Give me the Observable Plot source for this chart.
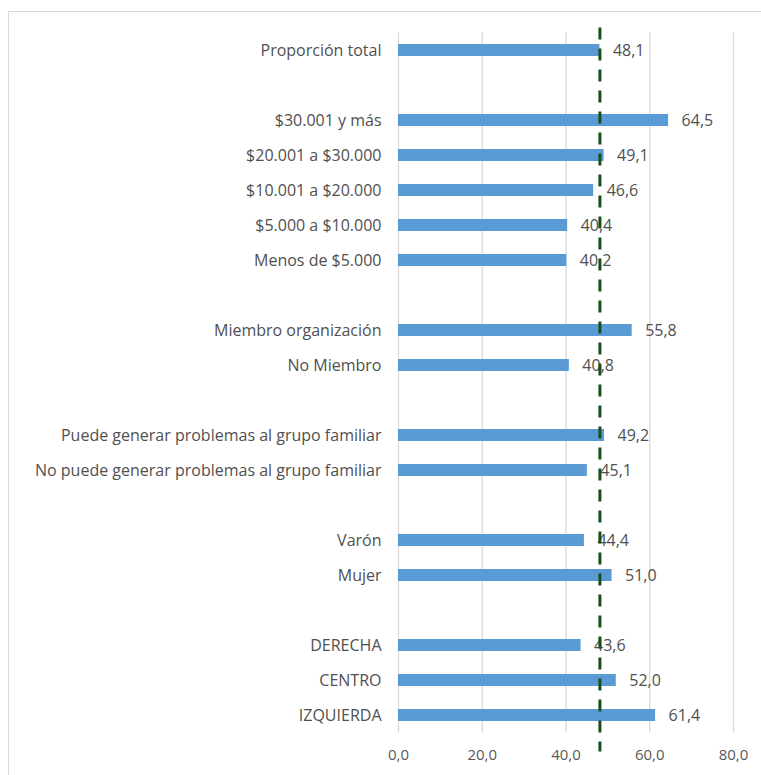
<!DOCTYPE html>
<html>
<head>
<meta charset="utf-8">
<script src="https://cdn.jsdelivr.net/npm/d3@7"></script>
<script src="https://cdn.jsdelivr.net/npm/@observablehq/plot@0.6"></script>
<style>
  html, body { margin: 0; padding: 0; background: #fff; overflow: hidden; }
  #wrap { position: relative; width: 761px; height: 775px; }
  #border { position: absolute; left: 8px; top: 11px; width: 820px; height: 820px;
            border: 1.5px solid #d9d9d9; box-sizing: border-box; }
  #chart { position: absolute; left: 0; top: 0; }
</style>
</head>
<body>
<div id="wrap"><div id="border"></div><div id="chart"></div></div>
<script>
const categories = [
  "Proporción total",
  "$30.001 y más", "$20.001 a $30.000", "$10.001 a $20.000", "$5.000 a $10.000", "Menos de $5.000",
  "Miembro organización", "No Miembro",
  "Puede generar problemas al grupo familiar", "No puede generar problemas al grupo familiar",
  "Varón", "Mujer",
  "DERECHA", "CENTRO", "IZQUIERDA"
];
const values = [48.1, 64.5, 49.1, 46.6, 40.4, 40.2, 55.8, 40.8, 49.2, 45.1, 44.4, 51.0, 43.6, 52.0, 61.4];
const groupSizes = [1, 5, 2, 2, 2, 3];
const xTicks = [0, 20, 40, 60, 80];
const totalValue = 48.1;

// build the band domain with blank spacer rows between groups
const domain = [];
let k = 0;
groupSizes.forEach((n, g) => {
  if (g > 0) domain.push("__gap" + g);
  for (let i = 0; i < n; i++) domain.push(categories[k++]);
});
const data = categories.map((c, i) => ({category: c, value: values[i]}));
const fmt = v => v.toFixed(1).replace(".", ",");

const font = "'Open Sans', 'Noto Sans', sans-serif";
const chart = Plot.plot({
  width: 761,
  height: 775,
  marginLeft: 398,
  marginRight: 28,
  marginTop: 32.5,
  marginBottom: 42.5,
  style: {fontFamily: font, fontSize: "16px", background: "transparent"},
  x: {domain: [0, 80], ticks: xTicks},
  y: {domain, paddingInner: 0.66, paddingOuter: 0.33},
  marks: [
    Plot.gridX(xTicks, {stroke: "#d9d9d9", strokeOpacity: 1, strokeWidth: 1.3}),
    Plot.barX(data, {x: "value", y: "category", fill: "#5b9bd5"}),
    Plot.text(data, {x: "value", y: "category", text: d => fmt(d.value), textAnchor: "start",
      dx: 13, fill: "#505050", fontSize: 16}),
    Plot.ruleX([totalValue], {stroke: "#1b4d1b", strokeWidth: 3, strokeDasharray: "12,9",
      insetTop: -5, insetBottom: -19}),
    Plot.axisX(xTicks, {tickSize: 0, tickPadding: 16, tickFormat: fmt, fill: "#595959", fontSize: 15, label: null}),
    Plot.axisY({tickSize: 0, tickPadding: 17, fill: "#505050", fontSize: 16, label: null,
      tickFormat: d => d.startsWith("__gap") ? "" : d})
  ]
});
document.getElementById("chart").appendChild(chart);
</script>
</body>
</html>
